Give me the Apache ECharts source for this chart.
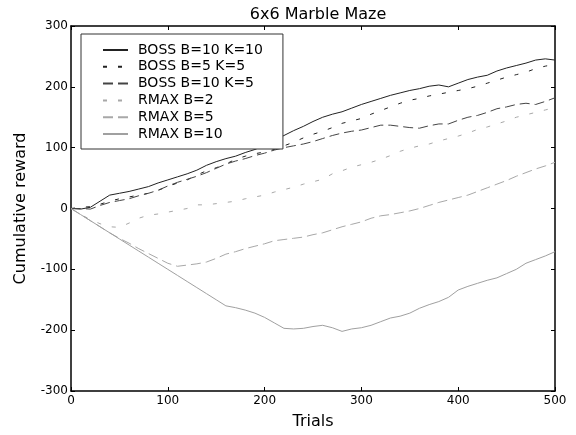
<!DOCTYPE html>
<html>
<head>
<meta charset="utf-8">
<script src="https://cdn.jsdelivr.net/npm/echarts@6/dist/echarts.min.js"></script>
<style>
html,body{margin:0;padding:0;background:#fff;}
#chart{width:576px;height:435px;}
</style>
</head>
<body>
<div id="chart"></div>
<script>
var trials = [0,10,20,30,40,50,60,70,80,90,100,110,120,130,140,150,160,170,180,190,200,210,220,230,240,250,260,270,280,290,300,310,320,330,340,350,360,370,380,390,400,410,420,430,440,450,460,470,480,490,500];

var bossB10K10 = [0,-1,2,12,22,25,28,32,36,42,47,52,57,63,71,77,82,86,92,97,104,112,120,128,135,143,150,155,159,165,171,176,181,186,190,194,197,201,203,200,206,212,216,219,226,231,235,239,244,246,244];
var bossB5K5 = [0,2,3,7,12,16,19,22,25,30,36,42,47,55,62,67,73,81,86,90,93,97,103,109,116,122,127,133,140,144,148,155,161,167,173,178,181,185,188,191,194,197,201,206,211,216,220,224,230,234,237];
var bossB10K5 = [0,0,-1,5,10,13,16,21,25,30,37,43,48,53,59,66,73,78,82,87,91,96,100,103,106,110,115,120,124,127,129,133,137,137,135,133,132,136,139,139,145,150,153,158,164,167,171,173,171,176,182];
var rmaxB2 = [0,-10,-18,-25,-30,-31,-24,-16,-11,-9,-6,-3,0,6,6,8,10,12,16,19,22,27,31,35,40,44,48,57,62,68,72,76,81,87,94,99,103,106,111,115,119,124,130,134,139,144,150,154,158,162,166];
var rmaxB5 = [0,-10,-20,-30,-40,-49,-57,-66,-74,-82,-90,-95,-93,-91,-88,-82,-75,-71,-66,-62,-58,-53,-51,-49,-47,-43,-40,-35,-30,-26,-22,-16,-12,-10,-7,-4,0,5,10,14,18,22,28,34,40,46,53,59,65,70,76];
var rmaxB10 = [0,-10,-20,-30,-40,-50,-60,-70,-80,-90,-100,-110,-120,-130,-140,-150,-160,-163,-167,-172,-179,-188,-197,-198,-197,-194,-192,-196,-202,-198,-196,-192,-186,-180,-177,-172,-164,-158,-153,-146,-134,-128,-123,-118,-114,-107,-100,-90,-84,-78,-71];

var seriesNames = ['BOSS B=10 K=10','BOSS B=5 K=5','BOSS B=10 K=5','RMAX B=2','RMAX B=5','RMAX B=10'];
var seriesValues = [bossB10K10, bossB5K5, bossB10K5, rmaxB2, rmaxB5, rmaxB10];
var xTicks = [0,100,200,300,400,500];
var yTicks = [-300,-200,-100,0,100,200,300];

var styles = [
  {color:'#222222', type:'solid'},
  {color:'#222222', type:[4,11]},
  {color:'#444444', type:[10,5]},
  {color:'#a8a8a8', type:[4,11]},
  {color:'#a8a8a8', type:[10,5]},
  {color:'#a0a0a0', type:'solid'}
];

var FONT = 'DejaVu Sans';

function pairs(vals){
  return trials.map(function(t,i){ return [t, vals[i]]; });
}

var series = seriesNames.map(function(name, i){
  return {
    name: name,
    type: 'line',
    data: pairs(seriesValues[i]),
    symbol: 'none',
    showSymbol: false,
    lineStyle: {color: styles[i].color, width: 1, type: styles[i].type},
    itemStyle: {color: styles[i].color},
    emphasis: {disabled: true},
    silent: true
  };
});

var axisCommon = {
  type: 'value',
  axisLine: {show: true, onZero: false, lineStyle: {color: '#000', width: 1.5}},
  axisTick: {show: true, inside: true, length: 4, lineStyle: {color: '#000', width: 1}},
  splitLine: {show: false}
};

var chart = echarts.init(document.getElementById('chart'), null, {renderer: 'canvas'});
chart.setOption({
  animation: false,
  backgroundColor: '#fff',
  title: {
    text: '6x6 Marble Maze',
    left: 313, top: 2, textAlign: 'center',
    textStyle: {fontFamily: FONT, fontSize: 16, fontWeight: 'normal', color: '#000'}
  },
  grid: {left: 71, right: 21, top: 26, bottom: 33},
  legend: {
    data: seriesNames,
    orient: 'vertical',
    left: 81, top: 34,
    padding: [9, 20, 8, 21],
    itemWidth: 25, itemHeight: 14, itemGap: 2.8,
    backgroundColor: '#fff',
    borderColor: '#333', borderWidth: 1,
    itemStyle: {color: 'rgba(0,0,0,0)', borderWidth: 0, opacity: 0},
    textStyle: {fontFamily: FONT, fontSize: 14, color: '#000', lineHeight: 14, padding: [0,0,0,5]},
    selectedMode: false
  },
  xAxis: [
    Object.assign({}, axisCommon, {
      min: 0, max: 500, interval: 100, position: 'bottom',
      name: 'Trials', nameLocation: 'middle', nameGap: 23,
      nameTextStyle: {fontFamily: FONT, fontSize: 16, color: '#000'},
      axisLabel: {fontFamily: FONT, fontSize: 12, color: '#000', margin: 4,
        formatter: function(v){ return xTicks.indexOf(v) >= 0 ? String(v) : ''; }}
    }),
    Object.assign({}, axisCommon, {
      min: 0, max: 500, interval: 100, position: 'top',
      axisLabel: {show: false}
    })
  ],
  yAxis: [
    Object.assign({}, axisCommon, {
      min: -300, max: 300, interval: 100, position: 'left',
      name: 'Cumulative reward', nameLocation: 'middle', nameGap: 42, nameRotate: 90,
      nameTextStyle: {fontFamily: FONT, fontSize: 16, color: '#000'},
      axisLabel: {fontFamily: FONT, fontSize: 12, color: '#000', margin: 3,
        formatter: function(v){ return yTicks.indexOf(v) >= 0 ? String(v) : ''; }}
    }),
    Object.assign({}, axisCommon, {
      min: -300, max: 300, interval: 100, position: 'right',
      axisLabel: {show: false}
    })
  ],
  series: series
});
</script>
</body>
</html>
